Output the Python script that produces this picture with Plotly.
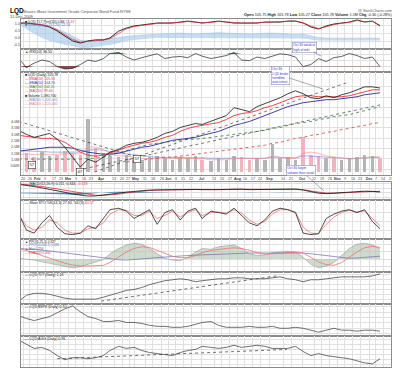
import plotly.graph_objects as go
import numpy as np

FONT = "Liberation Sans"

dates = ["2009-01-16","2009-01-23","2009-01-30","2009-02-06","2009-02-13","2009-02-20","2009-02-27",
         "2009-03-06","2009-03-13","2009-03-20","2009-03-27","2009-04-03","2009-04-09","2009-04-17","2009-04-24",
         "2009-05-01","2009-05-08","2009-05-15","2009-05-22","2009-05-29","2009-06-05","2009-06-12","2009-06-19","2009-06-26",
         "2009-07-02","2009-07-10","2009-07-17","2009-07-24","2009-07-31","2009-08-07","2009-08-14","2009-08-21","2009-08-28",
         "2009-09-04","2009-09-11","2009-09-18","2009-09-25","2009-10-02","2009-10-09","2009-10-16","2009-10-23","2009-10-30",
         "2009-11-06","2009-11-13","2009-11-20","2009-11-27","2009-12-04","2009-12-11"]

tick_dates = ["2009-01-20","2009-01-26","2009-02-02","2009-02-09","2009-02-17","2009-02-23","2009-03-02","2009-03-09",
              "2009-03-16","2009-03-23","2009-04-01","2009-04-13","2009-04-20","2009-04-27","2009-05-01","2009-05-11",
              "2009-05-18","2009-05-26","2009-06-01","2009-06-08","2009-06-15","2009-06-22","2009-07-01","2009-07-13",
              "2009-07-20","2009-07-27","2009-08-03","2009-08-10","2009-08-17","2009-08-24","2009-09-01","2009-09-14",
              "2009-09-21","2009-10-01","2009-10-12","2009-10-19","2009-10-26","2009-11-02","2009-11-09","2009-11-16",
              "2009-11-23","2009-12-01","2009-12-07","2009-12-14","2009-12-21"]
tick_text = ["20","26","<b>Feb</b>","9","17","23","<b>Mar</b>","9","16","23","<b>Apr</b>","13","20","27","<b>May</b>","11",
             "18","26","<b>Jun</b>","8","15","22","<b>Jul</b>","13","20","27","<b>Aug</b>","10","17","24","<b>Sep</b>","14",
             "21","<b>Oct</b>","12","19","26","<b>Nov</b>","9","16","23","<b>Dec</b>","7","14","21"]

# ---- main price panel ----
price = [97.52,96.75,96.17,96.56,96.94,95.79,94.25,92.32,90.39,91.93,
         91.36,92.32,93.28,93.86,94.63,95.02,95.21,95.60,96.17,96.94,
         97.33,98.10,98.49,98.87,98.68,99.26,99.83,100.41,101.95,101.57,
         101.18,102.15,102.72,103.30,103.88,104.65,105.23,104.65,103.88,103.69,
         104.27,103.88,104.46,104.84,105.42,106.00,106.00,105.78]
ema_red = [96.56,96.37,96.17,95.98,95.98,95.79,95.21,94.25,93.28,92.71,
           92.51,92.71,93.09,93.67,94.25,94.63,95.02,95.21,95.60,96.17,
           96.56,97.33,97.91,98.29,98.49,98.68,99.06,99.64,100.41,100.80,
           100.99,101.37,101.95,102.34,102.92,103.50,104.08,104.27,104.27,104.08,
           104.08,104.08,104.08,104.27,104.65,105.04,105.42,105.42]
ema_blue = [93.48,93.67,93.86,94.05,94.25,94.25,94.25,94.05,93.67,93.28,
            93.09,92.90,92.90,93.09,93.48,93.86,94.25,94.44,94.82,95.21,
            95.60,95.79,95.98,96.17,96.56,96.94,97.33,97.91,98.49,98.87,
            99.26,99.83,100.41,100.99,101.57,102.15,102.53,102.92,103.11,103.30,
            103.50,103.50,103.69,103.88,104.07,104.46,104.65,104.84]
ma_green = [91.95,91.93,91.92,91.90,91.90,91.90,91.92,91.93,91.95,92.00,
            92.13,92.32,92.71,93.09,93.67,94.05,94.44,94.82,95.02,95.21,
            95.40,95.60,95.79,95.79,95.98,96.17,96.37,96.56,96.75,96.94,
            97.14,97.33,97.52,97.91,98.10,98.49,98.87,99.06,99.26,99.64,
            99.83,100.22,100.41,100.60,100.99,101.38,101.76,102.15]
ma_reddot_dates = dates[14:]
ma_reddot = [91.36,91.55,91.74,91.93,92.13,92.32,92.32,92.51,92.71,92.90,
             93.09,93.28,93.48,93.67,93.86,94.05,94.25,94.44,94.63,95.02,
             95.21,95.60,95.98,96.17,96.56,96.75,97.14,97.33,97.71,97.91,
             98.29,98.49,98.87,99.06]
volume_m = [1.3,1.5,1.2,1.6,1.3,1.4,1.7,1.5,1.4,4.2,
            1.9,1.5,1.3,1.2,1.4,1.1,1.0,1.2,1.3,1.1,
            1.0,1.2,1.1,1.3,1.0,0.9,1.1,1.0,1.3,1.2,
            1.0,1.1,1.0,2.2,1.1,1.2,1.0,2.8,1.4,1.3,
            1.1,1.2,1.0,1.1,1.2,1.4,1.3,1.1]
vol_ma_purple = [1.7,1.7,1.7,1.65,1.6,1.6,1.6,1.6,1.6,1.75,
                 1.8,1.75,1.65,1.55,1.45,1.4,1.3,1.25,1.2,1.2,
                 1.15,1.15,1.15,1.15,1.15,1.12,1.12,1.12,1.15,1.15,
                 1.12,1.12,1.12,1.2,1.18,1.18,1.15,1.3,1.3,1.25,
                 1.2,1.15,1.1,1.1,1.1,1.15,1.2,1.2]
vol_ma_pink = [1.4,1.45,1.4,1.45,1.4,1.45,1.5,1.5,1.45,2.0,
               2.0,1.8,1.5,1.3,1.3,1.2,1.1,1.1,1.15,1.15,
               1.1,1.1,1.1,1.15,1.1,1.0,1.0,1.0,1.1,1.1,
               1.05,1.05,1.1,1.3,1.2,1.1,1.1,1.5,1.6,1.5,
               1.3,1.2,1.1,1.05,1.1,1.2,1.25,1.2]
tl_down_x = ["2009-01-16", "2009-05-04"]; tl_down_y = [99.26, 92.32]
tl_up1_x = ["2009-03-26", "2009-11-10"]; tl_up1_y = [89.43, 106.77]
tl_up2_x = ["2009-03-11", "2009-12-12"]; tl_up2_y = [89.82, 102.53]

# ---- top panel ----
perf_black = [1.07,1.07,1.0,0.93,0.79,0.5,0.14,-0.21,-0.36,-0.21,
              -0.14,-0.14,0.0,0.5,0.71,0.86,0.93,1.0,1.07,1.07,
              1.07,1.14,1.21,1.14,1.07,1.14,1.21,1.14,1.07,1.07,
              1.07,1.07,1.14,1.14,1.14,1.21,1.21,1.07,0.79,0.64,
              0.86,1.0,1.07,1.14,1.29,1.14,1.21,0.86]
perf_red = [1.05,1.06,1.02,0.95,0.83,0.58,0.25,-0.1,-0.3,-0.25,
            -0.17,-0.14,-0.05,0.35,0.65,0.82,0.9,0.97,1.04,1.07,
            1.07,1.12,1.18,1.15,1.09,1.12,1.18,1.15,1.09,1.07,
            1.07,1.07,1.12,1.14,1.14,1.19,1.21,1.1,0.85,0.68,
            0.8,0.96,1.05,1.12,1.25,1.17,1.19,0.92]
band_upper = [65,62.5,60,57.5,55,50,42.5,32.5,22.5,20,
              22.5,25,27.5,30,32.5,33.75,35,36.25,37.5,38.75,
              40,40,38.75,37.5,38.75,40,41,40,38.75,37.5,
              37.5,38.75,40,40,38.75,37.5,36.25,37.5,32.5,28.75,
              27.5,27.5,27.5,27.5,27.5,27.5,27.5,27.5]
band_lower = [60,50,37.5,27.5,20,15,10,7.5,2.5,2.5,
              5,7.5,10,15,20,22.5,25,26.25,27.5,27.5,
              27.5,27.5,27.5,27.5,27.5,27.5,27.5,27.5,27.5,27.5,
              27.5,27.5,27.5,27.5,27.5,27.5,27.5,26.25,23.75,21.25,
              21.25,21.25,21.25,21.25,21.25,21.25,21.25,21.25]

# ---- RSI ----
rsi = [55,25,40,50,45,28,20,22,35,50,
       45,55,72,75,60,50,58,65,71,55,
       60,62,58,72,63,55,60,65,75,50,
       48,60,55,62,71,68,60,28,35,55,
       45,58,62,72,65,55,60,28]

# ---- MACD ----
macd = [1.9,1.7,1.4,1.1,0.8,0.5,0.1,-0.3,-0.6,-0.75,
        -0.7,-0.55,-0.35,-0.1,0.15,0.35,0.5,0.6,0.65,0.7,
        0.7,0.75,0.7,0.75,0.7,0.65,0.7,0.75,0.85,0.8,
        0.7,0.75,0.7,0.75,0.8,0.85,0.85,0.6,0.2,-0.1,
        -0.2,-0.1,0.0,0.15,0.3,0.35,0.3,0.2]
macd_signal = [2.0,1.85,1.65,1.4,1.15,0.85,0.55,0.2,-0.15,-0.45,
               -0.6,-0.6,-0.5,-0.3,-0.05,0.15,0.35,0.5,0.58,0.64,
               0.68,0.72,0.72,0.73,0.72,0.69,0.69,0.72,0.8,0.8,
               0.74,0.74,0.72,0.73,0.77,0.82,0.84,0.7,0.4,0.1,
               -0.1,-0.12,-0.05,0.08,0.22,0.3,0.3,0.25]

# ---- Slow stochastic ----
sto_k = [75,20,10,45,70,30,8,5,10,35,
         25,60,90,95,85,60,75,90,40,80,
         90,55,85,95,60,85,80,75,95,70,
         45,35,55,85,95,90,80,10,5,8,
         60,75,85,90,80,90,50,25]
sto_d = [70,35,20,30,55,45,20,10,10,25,
         30,45,75,90,88,70,70,85,60,70,
         85,65,80,90,70,80,82,78,90,78,
         55,40,50,75,90,90,82,30,10,8,
         40,65,80,88,82,86,60,35]

# ---- PPO ----
ppo_hist = [0.02,0.0,-0.03,-0.08,-0.12,-0.17,-0.22,-0.25,-0.22,-0.15,
            -0.1,-0.02,0.15,0.3,0.4,0.45,0.42,0.3,0.15,0.02,
            -0.03,-0.05,0.05,0.2,0.3,0.28,0.35,0.38,0.4,0.3,
            0.15,0.1,0.12,0.18,0.2,0.22,0.2,0.05,-0.15,-0.25,
            -0.2,-0.1,0.1,0.3,0.42,0.45,0.4,0.3]
ppo_red = [0.3,0.25,0.18,0.1,0.02,-0.05,-0.12,-0.17,-0.2,-0.2,
           -0.2,-0.18,-0.1,0.05,0.2,0.3,0.35,0.33,0.25,0.15,
           0.08,0.04,0.04,0.1,0.18,0.24,0.28,0.3,0.32,0.3,
           0.25,0.18,0.14,0.14,0.16,0.18,0.2,0.17,0.05,-0.08,
           -0.16,-0.18,-0.1,0.05,0.2,0.32,0.36,0.33]
ppo_blue = [0.3,0.29,0.27,0.25,0.23,0.2,0.17,0.14,0.11,0.08,
            0.05,0.02,0.0,-0.02,-0.03,-0.02,0.0,0.02,0.04,0.06,
            0.08,0.09,0.1,0.11,0.12,0.13,0.14,0.15,0.16,0.16,
            0.17,0.17,0.17,0.17,0.18,0.18,0.18,0.17,0.15,0.12,
            0.09,0.06,0.03,0.02,0.03,0.05,0.07,0.08]

# ---- ratio panels ----
lqd_tlt = [0.88,0.94,0.96,0.96,0.95,0.93,0.91,0.90,0.90,0.90,
           0.90,0.92,0.94,0.96,0.99,1.00,1.02,1.05,1.07,1.09,
           1.10,1.11,1.10,1.08,1.09,1.10,1.11,1.11,1.12,1.12,
           1.11,1.11,1.11,1.12,1.13,1.11,1.10,1.08,1.10,1.10,
           1.11,1.12,1.13,1.13,1.13,1.13,1.14,1.16]
tlt_trend_x = ["2009-04-01", "2009-09-08"]; tlt_trend_y = [0.88, 1.14]
lqd_spx = [0.1236,0.1182,0.1145,0.1182,0.1218,0.1291,0.1364,0.1418,0.1309,0.1218,
           0.1182,0.1127,0.1127,0.1145,0.1109,0.1109,0.1091,0.1055,0.1036,0.1036,
           0.1018,0.1018,0.1036,0.1073,0.1109,0.1127,0.1055,0.1018,0.1018,0.1018,
           0.1036,0.1018,0.1018,0.1036,0.1000,0.1000,0.1018,0.1000,0.0964,0.0927,
           0.0964,0.1000,0.0964,0.0964,0.0945,0.0964,0.0964,0.0945]
lqd_agg = [1.14,1.10,1.06,1.07,1.04,0.99,0.95,0.97,0.97,0.96,
           0.97,0.99,1.04,1.08,1.06,1.07,1.04,1.02,1.01,1.00,
           0.99,1.02,1.04,1.05,1.08,1.07,1.06,1.07,1.09,1.07,
           1.08,1.09,1.08,1.06,1.06,1.06,1.08,1.03,0.99,1.01,
           0.99,0.98,0.97,0.96,0.94,0.92,0.91,0.96]
agg_trend_x = ["2009-02-20", "2009-09-17"]; agg_trend_y = [0.96, 1.05]

# ================== figure ==================
W, H = 400, 369
ML, MR, MT, MB = 13, 17, 11, 10
PW, PH = W - ML - MR, H - MT - MB

def px_x(px):
    return (px - ML) / PW

def px_y(py):
    return (H - MB - py) / PH

def dom(top, bottom):
    return [px_y(bottom), px_y(top)]

GRID = "#e0e0e0"
FRAME = "#8c8c8c"
TF = dict(family=FONT, size=3.8, color="#444")

fig = go.Figure()

def add(tr):
    fig.add_trace(tr)

def line(x, y, xa, ya, color, width=0.8, dash="solid", **kw):
    add(go.Scatter(x=x, y=y, xaxis=xa, yaxis=ya, mode="lines",
                   line=dict(color=color, width=width, dash=dash), hoverinfo="skip", **kw))

# panel 1
line(dates, band_lower, "x", "y", "rgba(0,0,0,0)", 0)
add(go.Scatter(x=dates, y=band_upper, xaxis="x", yaxis="y", mode="lines", fill="tonexty",
               fillcolor="rgba(160,196,232,0.6)", line=dict(color="rgba(140,180,225,0.8)", width=0.4)))
line(dates, perf_black, "x", "y10", "#111", 0.9)
line(dates, perf_red, "x", "y10", "#e8303a", 0.7)

# panel 2 RSI
rsi_a = np.array(rsi, dtype=float)
line(dates, [70] * len(dates), "x2", "y2", "rgba(0,0,0,0)", 0)
add(go.Scatter(x=dates, y=np.maximum(rsi_a, 70), xaxis="x2", yaxis="y2", mode="lines", fill="tonexty",
               fillcolor="#4f7f4f", line=dict(width=0, color="#4f7f4f")))
line(dates, [30] * len(dates), "x2", "y2", "rgba(0,0,0,0)", 0)
add(go.Scatter(x=dates, y=np.minimum(rsi_a, 30), xaxis="x2", yaxis="y2", mode="lines", fill="tonexty",
               fillcolor="#8a4a48", line=dict(width=0, color="#8a4a48")))
line(dates, rsi, "x2", "y2", "#222", 0.7)

# panel 3 main: volume on y3 (base), prices on y11 (overlay)
vol_colors = ["#b5b5b5"] + ["#b5b5b5" if price[i] >= price[i - 1] else "#f1b3bf" for i in range(1, len(price))]
add(go.Bar(x=dates, y=volume_m, xaxis="x3", yaxis="y3", marker=dict(color=vol_colors, line=dict(width=0)),
           width=3.2 * 86400000, hoverinfo="skip"))
line(dates, vol_ma_purple, "x3", "y3", "#8c8cd8", 0.7)
line(dates, vol_ma_pink, "x3", "y3", "#f08a8a", 0.6)
line(dates, ma_green, "x3", "y11", "#2e7d32", 0.8, "dot")
line(ma_reddot_dates, ma_reddot, "x3", "y11", "#d04040", 0.8, "dot")
line(dates, ema_blue, "x3", "y11", "#2a2a9a", 0.9)
line(dates, ema_red, "x3", "y11", "#e8303a", 0.9)
line(tl_down_x, tl_down_y, "x3", "y11", "#222", 0.6, "dot")
line(tl_up1_x, tl_up1_y, "x3", "y11", "#222", 0.6, "dot")
line(tl_up2_x, tl_up2_y, "x3", "y11", "#222", 0.6, "dot")
line(dates, price, "x3", "y11", "#111", 0.8)

# panel 4 MACD
hist = np.array(macd) - np.array(macd_signal)
add(go.Scatter(x=dates, y=hist, xaxis="x4", yaxis="y4", mode="lines", fill="tozeroy",
               fillcolor="rgba(30,120,180,0.85)", line=dict(width=0, color="#1e78b4")))
line(dates, macd_signal, "x4", "y4", "#e8303a", 0.8)
line(dates, macd, "x4", "y4", "#111", 0.8)

# panel 5 stochastics
line(dates, sto_d, "x5", "y5", "#f07070", 0.8)
line(dates, sto_k, "x5", "y5", "#222", 0.8)

# panel 6 PPO
add(go.Scatter(x=dates, y=ppo_hist, xaxis="x6", yaxis="y6", mode="lines", fill="tozeroy",
               fillcolor="rgba(175,195,175,0.6)", line=dict(width=0.5, color="#8a8a8a")))
line(dates, ppo_blue, "x6", "y6", "#6a6ab8", 0.7)
line(dates, ppo_red, "x6", "y6", "#f07070", 0.8)

# panels 7-9 ratios
line(dates, lqd_tlt, "x7", "y7", "#333", 0.7)
line(tlt_trend_x, tlt_trend_y, "x7", "y7", "#333", 0.7, "dot")
line(dates, lqd_spx, "x8", "y8", "#333", 0.7)
line(dates, lqd_agg, "x9", "y9", "#333", 0.7)
line(agg_trend_x, agg_trend_y, "x9", "y9", "#333", 0.7, "dot")

# ---- axes ----
panels = {
    1: dom(11, 41), 2: dom(41, 64), 3: dom(64, 167), 4: dom(174, 192), 5: dom(192, 231),
    6: dom(231, 264), 7: dom(264, 296), 8: dom(296, 328), 9: dom(328, 359),
}
layout = {}
for i in range(1, 10):
    key = "xaxis" if i == 1 else "xaxis%d" % i
    ax = dict(domain=[0, 1], anchor="y" if i == 1 else "y%d" % i, type="date",
              range=["2009-01-18", "2009-12-21"], tickvals=tick_dates, ticktext=tick_text,
              showticklabels=False, showgrid=True, gridcolor=GRID, gridwidth=0.6,
              showline=True, mirror=True, linecolor=FRAME, linewidth=0.6, zeroline=False,
              ticks="", automargin=False)
    if i > 1:
        ax["matches"] = "x"
    layout[key] = ax

def yax(i, rng, vals, texts=None, side="right", grid=True, **kw):
    d = dict(domain=panels[i], range=rng, tickvals=vals, side=side,
             showgrid=grid, gridcolor=GRID, gridwidth=0.6, zeroline=False, ticks="",
             tickfont=TF, automargin=False, showline=True, mirror=True, linecolor=FRAME, linewidth=0.6)
    if texts is not None:
        d["ticktext"] = texts
    d.update(kw)
    return d

layout["yaxis"] = yax(1, [0, 75], [60, 40, 20], ["60", "40", "20"])
layout["yaxis2"] = yax(2, [10, 87], [70, 50, 30])
layout["yaxis3"] = yax(3, [-0.2, 7.9], [0.5, 1.0, 1.5, 2.0, 2.5, 3.0, 3.5, 4.0],
                       ["500K", "1.0M", "1.5M", "2.0M", "2.5M", "3.0M", "3.5M", "4.0M"], side="left", grid=False)
layout["yaxis4"] = yax(4, [-1.64, 2.43], [2, 1, 0, -1])
layout["yaxis5"] = yax(5, [-10, 123], [80, 50, 20])
layout["yaxis6"] = yax(6, [-0.37, 0.57], [0.4, 0.2, 0.0, -0.2], ["0.4", "0.2", "0.0", "-0.2"])
layout["yaxis7"] = yax(7, [0.85, 1.18], [1.15, 1.10, 1.05, 1.00, 0.95, 0.90],
                       ["1.15", "1.10", "1.05", "1.00", "0.95", "0.90"])
layout["yaxis8"] = yax(8, [0.0855, 0.1455], [0.14, 0.13, 0.12, 0.11, 0.10, 0.09],
                       ["0.14", "0.13", "0.12", "0.11", "0.10", "0.09"])
layout["yaxis9"] = yax(9, [0.88, 1.18], [1.15, 1.10, 1.05, 1.00, 0.95, 0.90],
                       ["1.15", "1.10", "1.05", "1.00", "0.95", "0.90"])
layout["yaxis10"] = yax(1, [-0.79, 1.36], [1.0, 0.5, 0.0, -0.5], ["1.0", "0.5", "0.0", "-0.5"], side="left",
                        grid=False, overlaying="y", anchor="x", showline=False)
layout["yaxis11"] = yax(3, [88.85, 108.89], [90, 92, 94, 96, 98, 100, 102, 104, 106], side="right", grid=True,
                        overlaying="y3", anchor="x3", showline=False)

# ---- annotations ----
ann = []

def txt(px, py, text, size=4, color="#333", xanchor="left", **kw):
    ann.append(dict(x=px_x(px), y=px_y(py), xref="paper", yref="paper", text=text, showarrow=False,
                    xanchor=xanchor, yanchor="middle", font=dict(family=FONT, size=size, color=color), **kw))

# date labels (strip under the price panel and at the bottom), placed on the shared date axis
shifts = {"2009-04-27": -1.2, "2009-05-01": 1.2}
for row_y, xr in ((170.5, "x3"), (363, "x9")):
    for d, t in zip(tick_dates, tick_text):
        ann.append(dict(x=d, y=px_y(row_y), xref=xr, yref="paper", text=t, showarrow=False,
                        xanchor="center", yanchor="middle", xshift=shifts.get(d, 0), borderpad=0,
                        font=dict(family=FONT, size=3.6, color="#444")))

txt(0, 3, "<b>LQD</b>", size=6.5, color="#000")
txt(12, 3, "iShares iBoxx Investment Grade Corporate Bond Fund NYSE", size=4, color="#555")
txt(0, 8, "11-Dec-2009", size=4, color="#444")
txt(386, 2.5, "@ StockCharts.com", size=3.8, color="#555", xanchor="right")
txt(391, 7, "<b>Open</b> 105.75 <b>High</b> 105.78 <b>Low</b> 105.27 <b>Close</b> 105.78 "
            "<b>Volume</b> 1.1M <b>Chg</b> -0.30 (-0.28%) <span style='color:#d00'>▼</span>",
    size=3.8, color="#222", xanchor="right")

txt(15, 13.5, "■ LQD:TLT Perf(20) 0.86 <span style='color:#e8303a'>74.37</span>", size=3.6, color="#222")
txt(15, 17.5, "■ CORR(LQD,TLT,20) 22.54", size=3.6, color="#3a6fc0")
txt(15, 44, "<span style='color:#2e6b2e'>▲</span> RSI(14) 36.50", size=3.6, color="#222")

main_legend = [("■ LQD (Daily) 105.78", "#111"), ("— EMA(20) 105.33", "#e8303a"),
               ("— EMA(50) 104.70", "#2a2a9a"), ("--- MA(150) 102.15", "#2e7d32"),
               ("--- MA(250) 99.06", "#d04040"), ("■ Volume 1,090,700", "#111"),
               ("— MA(50) 1,200,000", "#8080d0"), ("— MA(20) 1,120,000", "#f07070")]
for k, (t, c) in enumerate(main_legend):
    txt(15, 67 + 4.1 * k, t, size=3.5, color=c)

txt(15, 176, "— MACD(12,26,9) 0.211, 0.344, <span style='color:#e8303a'>-0.133</span>", size=3.6, color="#222")
txt(15, 194.5, "— Slow STO %K(14,3) 27.90, %D(3) <span style='color:#e8303a'>40.57</span>", size=3.6, color="#222")
ppo_leg = [("▲ PPO(5,25,1) 0.327", "#222"), ("— PPO(50,200,1) 0.081", "#6a6ab8"),
           ("▲ Hist 0.254", "#555"), ("— EMA(20) 0.330", "#e8303a")]
for k, (t, c) in enumerate(ppo_leg):
    txt(15, 233.8 + 3.6 * k, t, size=3.2, color=c)
txt(15, 267, "— LQD:TLT (Daily) 1.16", size=3.6, color="#222")
txt(15, 299, "— LQD:$SPX (Daily) 0.10", size=3.6, color="#222")
txt(15, 331, "— LQD:AGG (Daily) 0.96", size=3.6, color="#222")

def box(px, py, text, size=4.3):
    ann.append(dict(x=px_x(px), y=px_y(py), xref="paper", yref="paper", text=text, showarrow=False,
                    xanchor="center", yanchor="middle", font=dict(family=FONT, size=size, color="#111"),
                    bgcolor="white", bordercolor="#333", borderwidth=0.6, borderpad=0.8))

box(23.5, 157, "57")
box(128.5, 150.5, "57")
box(72, 163.5, "47")

def callout(tipx, tipy, cx, cy, text):
    ann.append(dict(x=px_x(tipx), y=px_y(tipy), xref="paper", yref="paper", text=text, showarrow=True,
                    arrowhead=0, arrowwidth=0.5, arrowcolor="#555", ax=cx - tipx, ay=cy - tipy,
                    align="left", font=dict(family=FONT, size=3.3, color="#3333cc"),
                    bgcolor="white", bordercolor="#7777aa", borderwidth=0.5, borderpad=0.8))

callout(313, 48, 296, 39, "Oct 30 weak at<br>high of mkt")
callout(315, 81, 272, 67, "Oct 30<br>LQD broke<br>trendline<br>wait retest")
callout(316, 183, 293, 162.5, "Oct 30 larger<br>volume than usual")

fig.update_layout(width=W, height=H, margin=dict(l=ML, r=MR, t=MT, b=MB, pad=0),
                  paper_bgcolor="white", plot_bgcolor="white", showlegend=False,
                  bargap=0, annotations=ann, font=dict(family=FONT, size=5), **layout)

fig.write_html("out.html")
